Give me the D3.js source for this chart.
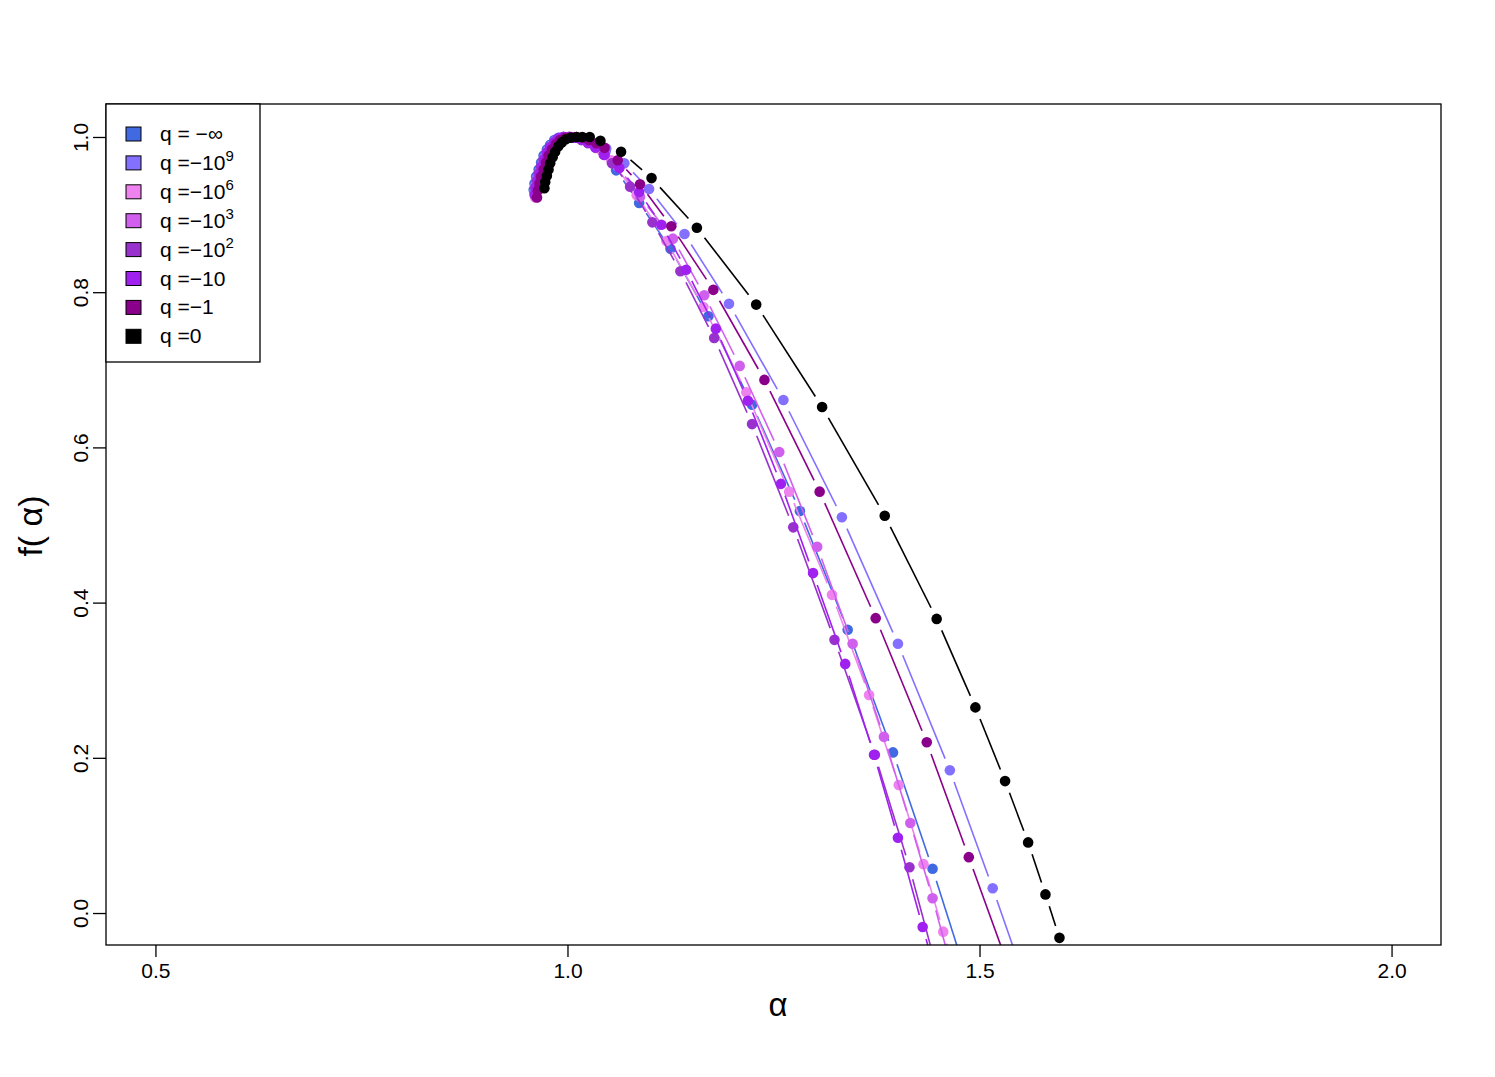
<!DOCTYPE html>
<html>
<head>
<meta charset="utf-8">
<script src="https://d3js.org/d3.v7.min.js"></script>
<style>
  body { margin: 0; background: #fff; }
  text { font-family: "Liberation Sans", Arial, Helvetica, sans-serif; fill: #000; }
</style>
</head>
<body>
<div id="Vis"></div>
<script>
// f(alpha) spectra, one [alpha, f] list per q
var qMinusInf = [[0.959,0.932],[0.960,0.940],[0.962,0.949],[0.965,0.958],[0.968,0.967],[0.971,0.976],[0.975,0.984],[0.979,0.990],[0.984,0.996],[0.989,0.999],[0.995,1.000],[1.002,1.000],[1.010,0.999],[1.017,0.997],[1.025,0.994],[1.034,0.990],[1.046,0.981],[1.059,0.957],[1.087,0.915],[1.125,0.856],[1.171,0.769],[1.224,0.655],[1.282,0.518],[1.340,0.365],[1.395,0.207],[1.443,0.057],[1.484,-0.080]];
var qMinus1e9 = [[0.960,0.930],[0.961,0.938],[0.963,0.947],[0.966,0.956],[0.969,0.965],[0.972,0.974],[0.976,0.983],[0.980,0.989],[0.985,0.995],[0.990,0.999],[0.996,1.000],[1.003,1.000],[1.011,0.999],[1.019,0.997],[1.027,0.994],[1.047,0.985],[1.069,0.966],[1.099,0.933],[1.142,0.875],[1.196,0.785],[1.262,0.661],[1.333,0.510],[1.401,0.347],[1.464,0.184],[1.516,0.032],[1.559,-0.099]];
var qMinus1e6 = [[0.961,0.922],[0.962,0.931],[0.963,0.940],[0.965,0.949],[0.968,0.958],[0.971,0.967],[0.974,0.976],[0.978,0.984],[0.983,0.991],[0.988,0.996],[0.994,0.999],[1.001,1.000],[1.008,1.000],[1.016,0.998],[1.024,0.995],[1.032,0.990],[1.041,0.983],[1.053,0.970],[1.084,0.925],[1.120,0.866],[1.165,0.781],[1.217,0.671],[1.269,0.543],[1.321,0.410],[1.366,0.281],[1.402,0.165],[1.432,0.063],[1.456,-0.024],[1.477,-0.099]];
var qMinus1e3 = [[0.961,0.924],[0.962,0.933],[0.964,0.942],[0.966,0.951],[0.969,0.960],[0.972,0.969],[0.975,0.978],[0.979,0.986],[0.984,0.992],[0.989,0.997],[0.995,1.000],[1.002,1.000],[1.009,0.999],[1.017,0.997],[1.025,0.993],[1.034,0.987],[1.045,0.978],[1.061,0.962],[1.088,0.923],[1.128,0.869],[1.166,0.796],[1.209,0.705],[1.257,0.594],[1.303,0.472],[1.346,0.347],[1.384,0.227],[1.416,0.116],[1.443,0.019],[1.465,-0.067]];
var qMinus1e2 = [[0.960,0.926],[0.961,0.935],[0.963,0.944],[0.965,0.953],[0.968,0.962],[0.971,0.971],[0.975,0.980],[0.979,0.987],[0.984,0.993],[0.989,0.998],[0.995,1.000],[1.002,1.000],[1.009,0.999],[1.017,0.996],[1.025,0.992],[1.034,0.986],[1.044,0.977],[1.054,0.966],[1.076,0.936],[1.103,0.890],[1.137,0.827],[1.178,0.741],[1.224,0.630],[1.274,0.497],[1.324,0.352],[1.373,0.204],[1.415,0.059],[1.450,-0.080]];
var qMinus10 = [[0.961,0.925],[0.962,0.934],[0.964,0.943],[0.966,0.952],[0.969,0.961],[0.972,0.970],[0.975,0.979],[0.979,0.986],[0.984,0.993],[0.989,0.998],[0.995,1.000],[1.002,1.000],[1.009,0.999],[1.017,0.997],[1.025,0.993],[1.034,0.987],[1.045,0.977],[1.063,0.960],[1.087,0.929],[1.114,0.887],[1.144,0.829],[1.180,0.753],[1.219,0.660],[1.259,0.553],[1.298,0.438],[1.337,0.321],[1.372,0.204],[1.401,0.097],[1.431,-0.018],[1.456,-0.112]];
var qMinus1 = [[0.963,0.922],[0.964,0.931],[0.966,0.940],[0.968,0.949],[0.971,0.958],[0.974,0.967],[0.977,0.976],[0.981,0.984],[0.986,0.991],[0.991,0.996],[0.997,0.999],[1.004,1.000],[1.011,1.000],[1.018,0.999],[1.026,0.996],[1.035,0.992],[1.045,0.986],[1.061,0.970],[1.088,0.939],[1.126,0.885],[1.177,0.803],[1.239,0.687],[1.306,0.543],[1.374,0.380],[1.436,0.220],[1.487,0.072],[1.533,-0.063]];
var qZero = [[0.972,0.934],[0.973,0.942],[0.975,0.950],[0.977,0.958],[0.979,0.966],[0.982,0.974],[0.985,0.981],[0.989,0.988],[0.993,0.993],[0.998,0.997],[1.004,0.999],[1.011,1.000],[1.018,1.000],[1.027,1.000],[1.040,0.995],[1.065,0.981],[1.102,0.947],[1.157,0.883],[1.229,0.784],[1.309,0.652],[1.385,0.512],[1.448,0.379],[1.495,0.265],[1.531,0.170],[1.559,0.091],[1.580,0.024],[1.597,-0.032],[1.610,-0.086]];

var allSeries = [qMinusInf, qMinus1e9, qMinus1e6, qMinus1e3, qMinus1e2, qMinus10, qMinus1, qZero];
var seriesColors = ["#4169E1", "#8470FF", "#EE82EE", "#D15FEE", "#9932CC", "#A020F0", "#8B008B", "#000000"];
// legend labels: main part + superscript
var legendMain = ["q = \u2212\u221E", "q =\u221210", "q =\u221210", "q =\u221210", "q =\u221210", "q =\u221210", "q =\u22121", "q =0"];
var legendSup = ["", "9", "6", "3", "2", "", "", ""];
var xTicks = [0.5, 1.0, 1.5, 2.0];
var yTicks = [0.0, 0.2, 0.4, 0.6, 0.8, 1.0];

// plot box in page pixels
var box = {left: 106, top: 104, right: 1441, bottom: 945};

var svg = d3.select("#Vis")
  .append("svg")
    .attr("width", 1495)
    .attr("height", 1077);

var x = d3.scaleLinear()
  .domain([0.44, 2.06])
  .range([box.left, box.right]);

var y = d3.scaleLinear()
  .domain([-0.0412, 1.0425])
  .range([box.bottom, box.top]);

// clip everything to the plot region
svg.append("defs").append("clipPath")
    .attr("id", "clip")
  .append("rect")
    .attr("x", box.left)
    .attr("y", box.top)
    .attr("width", box.right - box.left)
    .attr("height", box.bottom - box.top);

var plot = svg.append("g").attr("clip-path", "url(#clip)");

// type = "b": segments between points with a gap round each point
var gap = 12.5;
allSeries.forEach(function(data, i) {
  var g = plot.append("g");
  var pts = data.map(function(d) { return [x(d[0]), y(d[1])]; });
  var segs = [];
  for (var k = 0; k < pts.length - 1; k++) {
    var dx = pts[k+1][0] - pts[k][0], dy = pts[k+1][1] - pts[k][1];
    var len = Math.sqrt(dx*dx + dy*dy);
    if (len <= 2 * gap) continue;
    var ux = dx / len, uy = dy / len;
    segs.push([pts[k][0] + ux*gap, pts[k][1] + uy*gap, pts[k+1][0] - ux*gap, pts[k+1][1] - uy*gap]);
  }
  g.selectAll("line")
    .data(segs)
    .enter().append("line")
      .attr("x1", function(s) { return s[0]; })
      .attr("y1", function(s) { return s[1]; })
      .attr("x2", function(s) { return s[2]; })
      .attr("y2", function(s) { return s[3]; })
      .attr("stroke", seriesColors[i])
      .attr("stroke-width", 1.6);
  g.selectAll("circle")
    .data(data)
    .enter().append("circle")
      .attr("cx", function(d) { return x(d[0]); })
      .attr("cy", function(d) { return y(d[1]); })
      .attr("r", 5.3)
      .attr("fill", seriesColors[i]);
});

// box
svg.append("rect")
  .attr("x", box.left)
  .attr("y", box.top)
  .attr("width", box.right - box.left)
  .attr("height", box.bottom - box.top)
  .attr("fill", "none")
  .attr("stroke", "#000")
  .attr("stroke-width", 1.3);

// X axis
var xAxis = svg.append("g")
  .attr("transform", "translate(0," + box.bottom + ")")
  .call(d3.axisBottom(x).tickValues(xTicks).tickSize(12).tickPadding(6).tickFormat(d3.format(".1f")));
xAxis.select(".domain").remove();
xAxis.selectAll("line").attr("stroke-width", 1.3);
xAxis.selectAll("text").attr("font-size", "21px").attr("font-family", null);

// Y axis, labels turned like R's default
var yAxis = svg.append("g")
  .attr("transform", "translate(" + box.left + ",0)")
  .call(d3.axisLeft(y).tickValues(yTicks).tickSize(13).tickFormat(d3.format(".1f")));
yAxis.select(".domain").remove();
yAxis.selectAll("line").attr("stroke-width", 1.3);
yAxis.selectAll("text")
  .attr("font-size", "21px")
  .attr("font-family", null)
  .attr("x", null)
  .attr("dy", null)
  .attr("text-anchor", "middle")
  .attr("transform", "translate(-18,0) rotate(-90)");

// axis titles
svg.append("text")
  .attr("x", 778)
  .attr("y", 1016)
  .attr("text-anchor", "middle")
  .attr("font-size", "33px")
  .text("\u03B1");

svg.append("text")
  .attr("transform", "translate(42,526) rotate(-90)")
  .attr("text-anchor", "middle")
  .attr("font-size", "34px")
  .text("f( \u03B1)");

// legend
var legend = svg.append("g");
legend.append("rect")
  .attr("x", box.left)
  .attr("y", box.top)
  .attr("width", 154)
  .attr("height", 258)
  .attr("fill", "#fff")
  .attr("stroke", "#000")
  .attr("stroke-width", 1.3);

var rows = legend.selectAll(".row")
  .data(seriesColors)
  .enter().append("g")
    .attr("class", "row")
    .attr("transform", function(d, i) { return "translate(0," + (134 + i * 28.9) + ")"; });

rows.append("rect")
  .attr("x", 126)
  .attr("y", -7)
  .attr("width", 15)
  .attr("height", 14)
  .attr("fill", function(d) { return d; })
  .attr("stroke", "#000")
  .attr("stroke-width", 1);

var labels = rows.append("text")
  .attr("x", 160)
  .attr("y", 7)
  .attr("font-size", "21px");
labels.append("tspan").text(function(d, i) { return legendMain[i]; });
labels.append("tspan")
  .attr("font-size", "15px")
  .attr("dy", -9)
  .text(function(d, i) { return legendSup[i]; });
</script>
</body>
</html>
